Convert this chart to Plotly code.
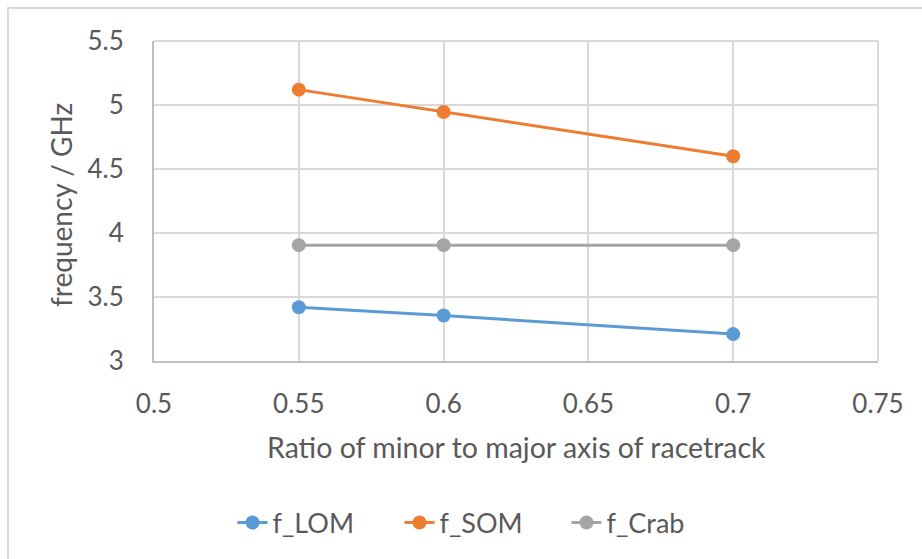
import plotly.graph_objects as go

# Ratio of minor to major axis of the racetrack
ratio = [0.55, 0.6, 0.7]

# Mode frequencies in GHz
f_lom = [3.42, 3.355, 3.21]
f_som = [5.12, 4.945, 4.60]
f_crab = [3.905, 3.905, 3.905]

series = [
    ("f_LOM", f_lom, "#5B9BD5"),
    ("f_SOM", f_som, "#ED7D31"),
    ("f_Crab", f_crab, "#A5A5A5"),
]

x_ticks = [0.5, 0.55, 0.6, 0.65, 0.7, 0.75]
y_ticks = [3, 3.5, 4, 4.5, 5, 5.5]

W, H = 922, 559
L, R, T, B = 154, 44, 41, 198
pw, ph = W - L - R, H - T - B

def px_x(p):
    return (p - L) / pw

def px_y(p):
    return (H - B - p) / ph

FONT = "Lato, Carlito, Calibri, sans-serif"
TXT = "#595959"

fig = go.Figure()
for name, vals, color in series:
    fig.add_trace(go.Scatter(
        x=ratio, y=vals, name=name, mode="lines+markers",
        line=dict(color=color, width=3),
        marker=dict(color=color, size=14),
    ))

fig.update_layout(
    width=W, height=H,
    margin=dict(l=L, r=R, t=T, b=B),
    paper_bgcolor="white", plot_bgcolor="white",
    font=dict(family=FONT, color=TXT),
    showlegend=True,
    legend=dict(
        orientation="h", x=px_x(483), y=px_y(523),
        xanchor="center", yanchor="middle",
        font=dict(size=27, color=TXT),
        entrywidth=122, entrywidthmode="pixels",
        traceorder="normal", bgcolor="rgba(0,0,0,0)",
    ),
    xaxis=dict(
        range=[0.5, 0.75], tickvals=x_ticks,
        ticktext=[f"{v:g}" for v in x_ticks],
        showgrid=True, gridcolor="#D9D9D9", gridwidth=2,
        showline=True, linecolor="#BFBFBF", linewidth=2, mirror=False,
        zeroline=False, ticks="", ticklabelstandoff=19,
        tickfont=dict(size=26, color=TXT),
    ),
    yaxis=dict(
        range=[3, 5.5], tickvals=y_ticks,
        ticktext=[f"{v:g}" for v in y_ticks],
        showgrid=True, gridcolor="#D9D9D9", gridwidth=2,
        showline=True, linecolor="#BFBFBF", linewidth=2,
        zeroline=False, ticks="", ticklabelstandoff=23,
        tickfont=dict(size=26, color=TXT),
    ),
    annotations=[
        dict(text="Ratio of minor to major axis of racetrack",
             xref="paper", yref="paper", x=0.5, y=px_y(447),
             xanchor="center", yanchor="middle", showarrow=False,
             font=dict(size=28.5, color=TXT)),
        dict(text="frequency / GHz",
             xref="paper", yref="paper", x=px_x(61), y=px_y(205),
             xanchor="center", yanchor="middle", showarrow=False,
             textangle=-90, font=dict(size=28, color=TXT)),
    ],
    shapes=[
        # chart-area frame, extending past the right and bottom edges
        dict(type="rect", xref="paper", yref="paper",
             x0=px_x(8), x1=px_x(940), y0=px_y(575), y1=px_y(8),
             line=dict(color="#D9D9D9", width=2), layer="below"),
        # right edge of the plot area
        dict(type="line", xref="paper", yref="paper",
             x0=1, x1=1, y0=0, y1=1,
             line=dict(color="#D9D9D9", width=2), layer="below"),
        # top edge of the plot area
        dict(type="line", xref="paper", yref="paper",
             x0=0, x1=1, y0=1, y1=1,
             line=dict(color="#D9D9D9", width=2), layer="below"),
    ],
)

fig.write_html("out.html")
